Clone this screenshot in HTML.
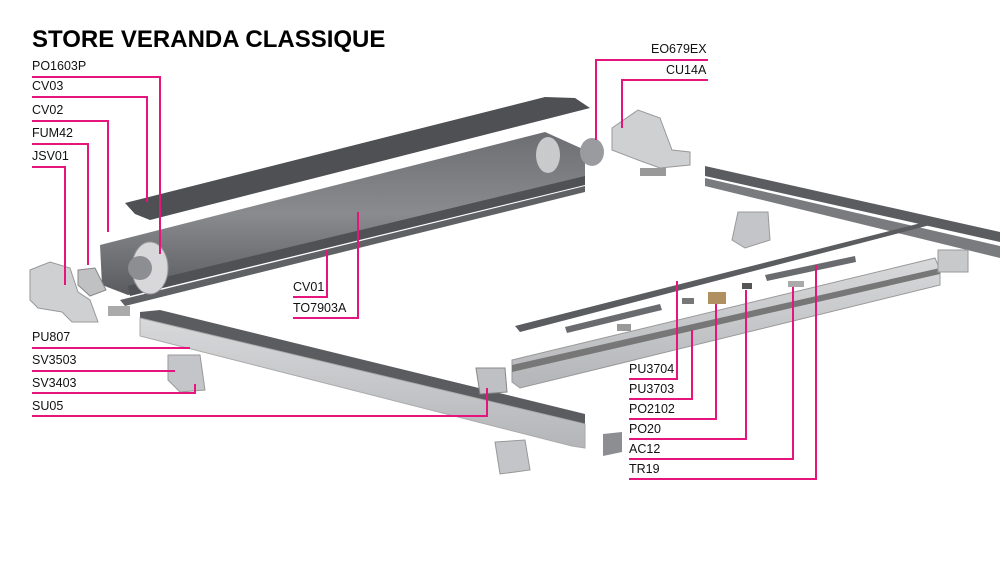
<!DOCTYPE html>
<html><head><meta charset="utf-8"><style>
html,body{margin:0;padding:0;background:#fff;}
svg{display:block;}
text{font-family:"Liberation Sans",sans-serif;font-size:12.5px;fill:#111;}
</style></head><body>
<svg width="1000" height="563" viewBox="0 0 1000 563" xmlns="http://www.w3.org/2000/svg">
<defs>
<linearGradient id="cas" x1="0" y1="0" x2="0" y2="1">
<stop offset="0" stop-color="#6d6e72"/><stop offset="0.5" stop-color="#8a8b8f"/><stop offset="1" stop-color="#5a5b5f"/>
</linearGradient>
<linearGradient id="lg" x1="0" y1="0" x2="0" y2="1">
<stop offset="0" stop-color="#d8d9db"/><stop offset="1" stop-color="#b4b5b8"/>
</linearGradient>
</defs>
<text x="32" y="47" style="font-size:24px;font-weight:bold;fill:#000">STORE VERANDA CLASSIQUE</text>

<!-- right top rails -->
<polygon points="705,166 1000,232 1000,242 705,176" fill="#5b5c60"/>
<polygon points="705,178 1000,246 1000,258 705,186" fill="#7a7b7f"/>
<!-- cassette -->
<polygon points="125,203 545,97 575,98 590,108 150,220 135,214" fill="#4f5054"/>
<polygon points="100,245 545,132 585,150 585,182 140,292 128,295 102,285" fill="url(#cas)"/>
<polygon points="128,286 585,176 585,185 130,296" fill="#505155"/>
<polygon points="120,300 585,186 585,192 125,306" fill="#606165"/>
<ellipse cx="150" cy="268" rx="18" ry="26" fill="#d8d8da" stroke="#999"/>
<ellipse cx="140" cy="268" rx="12" ry="12" fill="#8d8e92"/>
<ellipse cx="548" cy="155" rx="12" ry="18" fill="#c9cacc"/>
<!-- left endcap -->
<polygon points="30,270 50,262 70,268 78,292 90,300 98,322 72,322 62,312 38,308 30,300" fill="#cfd0d2" stroke="#999"/>
<polygon points="78,270 95,268 106,290 90,296 78,285" fill="#c0c1c3" stroke="#888"/>
<rect x="108" y="306" width="22" height="10" fill="#aaa"/>
<!-- right endcap -->
<ellipse cx="592" cy="152" rx="12" ry="14" fill="#9a9b9e"/>
<polygon points="612,128 638,110 660,118 672,150 690,152 690,165 660,168 638,160 612,150" fill="#cfd0d2" stroke="#999"/>
<rect x="640" y="168" width="26" height="8" fill="#999"/>
<polygon points="738,212 768,212 770,240 745,248 732,240" fill="#c4c5c8" stroke="#999"/>
<!-- bottom left rail -->
<polygon points="140,312 160,310 585,414 585,424 140,318" fill="#5b5c60"/>
<polygon points="140,318 585,424 585,448 572,446 140,336" fill="url(#lg)" stroke="#aaa"/>
<polygon points="168,355 200,355 205,390 180,392 168,380" fill="#c4c5c8" stroke="#999"/>
<polygon points="476,368 505,368 507,392 480,394" fill="#bfc0c3" stroke="#888"/>
<polygon points="495,442 525,440 530,470 500,474" fill="#c4c5c8" stroke="#999"/>
<polygon points="603,434 622,432 622,452 603,456" fill="#8d8e92"/>
<!-- right lower group -->
<polygon points="515,326 925,222 930,225 520,332" fill="#5b5c60"/>
<polygon points="565,327 660,304 662,310 567,333" fill="#6a6b6f"/>
<polygon points="765,275 855,256 856,262 767,281" fill="#6a6b6f"/>
<polygon points="512,360 935,258 940,270 940,285 520,388 512,382" fill="url(#lg)" stroke="#999"/>
<polygon points="512,365 940,268 940,274 512,372" fill="#777"/>
<rect x="938" y="250" width="30" height="22" fill="#c8c9cb" stroke="#999"/>
<rect x="708" y="292" width="18" height="12" fill="#b09060"/>
<rect x="682" y="298" width="12" height="6" fill="#777"/>
<rect x="742" y="283" width="10" height="6" fill="#555"/>
<rect x="788" y="281" width="16" height="6" fill="#aaa"/>
<rect x="617" y="324" width="14" height="7" fill="#999"/>

<g fill="none" stroke="#e6157d" stroke-width="2">
<polyline points="32,77 160,77 160,254"/>
<polyline points="32,97 147,97 147,202"/>
<polyline points="32,121 108,121 108,232"/>
<polyline points="32,144 88,144 88,265"/>
<polyline points="32,167 65,167 65,285"/>
<polyline points="293,297 327,297 327,250"/>
<polyline points="293,318 358,318 358,212"/>
<polyline points="32,348 190,348"/>
<polyline points="32,371 175,371"/>
<polyline points="32,393 195,393 195,384"/>
<polyline points="32,416 487,416 487,388"/>
<polyline points="629,379 677,379 677,281"/>
<polyline points="629,399 692,399 692,330"/>
<polyline points="629,419 716,419 716,304"/>
<polyline points="629,439 746,439 746,290"/>
<polyline points="629,459 793,459 793,287"/>
<polyline points="629,479 816,479 816,265"/>
<polyline points="708,60 596,60 596,140"/>
<polyline points="708,80 622,80 622,128"/>
</g>
<text x="32" y="70">PO1603P</text>
<text x="32" y="90">CV03</text>
<text x="32" y="114">CV02</text>
<text x="32" y="137">FUM42</text>
<text x="32" y="160">JSV01</text>
<text x="293" y="291">CV01</text>
<text x="293" y="312">TO7903A</text>
<text x="32" y="341">PU807</text>
<text x="32" y="364">SV3503</text>
<text x="32" y="387">SV3403</text>
<text x="32" y="410">SU05</text>
<text x="629" y="373">PU3704</text>
<text x="629" y="393">PU3703</text>
<text x="629" y="413">PO2102</text>
<text x="629" y="433">PO20</text>
<text x="629" y="453">AC12</text>
<text x="629" y="473">TR19</text>
<text x="651" y="53">EO679EX</text>
<text x="666" y="74">CU14A</text>
</svg>
</body></html>
